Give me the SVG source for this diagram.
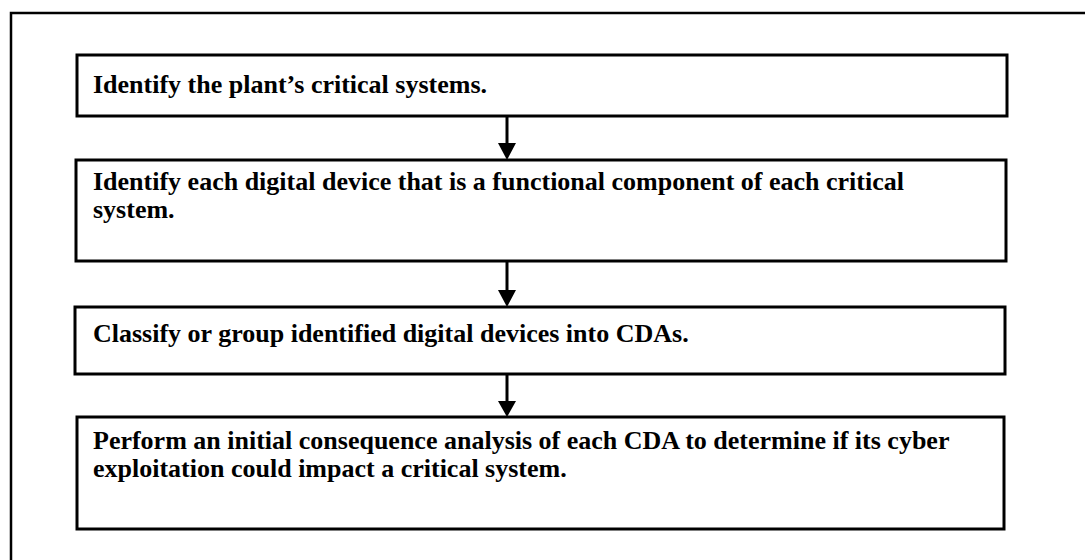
<svg xmlns="http://www.w3.org/2000/svg" width="1085" height="560" viewBox="0 0 1085 560">
  <style>
    .frame { fill: none; stroke: #000; stroke-width: 2.5; }
    .box { fill: #fff; stroke: #000; stroke-width: 3; }
    .label { font-family: "Liberation Serif", "Times New Roman", serif; font-weight: bold; font-size: 26px; fill: #000; }
    .stem { stroke: #000; stroke-width: 3; fill: none; }
    .head { fill: #000; }
  </style>
  <rect width="1085" height="560" fill="#fff"/>
  <path class="frame" d="M11,565 L11,13 L1090,13"/>
  <g id="connectors">
    <line class="stem" x1="507" y1="116" x2="507" y2="145"/>
    <polygon class="head" points="498,143 516,143 507,160"/>
    <line class="stem" x1="507" y1="261" x2="507" y2="292"/>
    <polygon class="head" points="498,290 516,290 507,307"/>
    <line class="stem" x1="507" y1="374" x2="507" y2="403"/>
    <polygon class="head" points="498,401 516,401 507,417"/>
  </g>
  <g id="node1">
    <rect class="box" x="77" y="55" width="930" height="61"/>
    <text class="label" x="93" y="93">Identify the plant’s critical systems.</text>
  </g>
  <g id="node2">
    <rect class="box" x="76" y="160" width="930" height="101"/>
    <text class="label" x="93" y="190">Identify each digital device that is a functional component of each critical</text>
    <text class="label" x="93" y="218">system.</text>
  </g>
  <g id="node3">
    <rect class="box" x="75" y="307" width="930" height="67"/>
    <text class="label" x="93" y="342">Classify or group identified digital devices into CDAs.</text>
  </g>
  <g id="node4">
    <rect class="box" x="77" y="417" width="927" height="112"/>
    <text class="label" x="93" y="449">Perform an initial consequence analysis of each CDA to determine if its cyber</text>
    <text class="label" x="93" y="477">exploitation could impact a critical system.</text>
  </g>
</svg>
